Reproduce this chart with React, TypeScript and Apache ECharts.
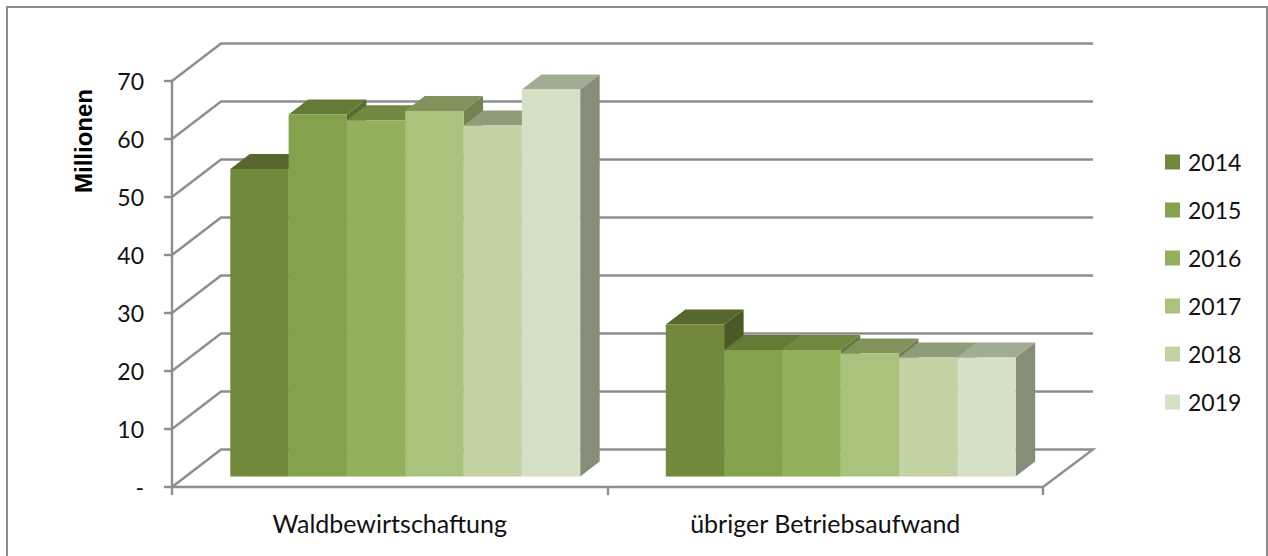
import React, { useEffect, useRef } from "react";
import * as echarts from "echarts";

const categories = ["Waldbewirtschaftung", "übriger Betriebsaufwand"];
const years = ["2014", "2015", "2016", "2017", "2018", "2019"];
const v2014 = [53.0, 26.2];
const v2015 = [62.4, 21.8];
const v2016 = [61.4, 21.8];
const v2017 = [63.0, 21.2];
const v2018 = [60.5, 20.5];
const v2019 = [66.7, 20.5];
const seriesValues = [v2014, v2015, v2016, v2017, v2018, v2019];
const yTicks = [0, 10, 20, 30, 40, 50, 60, 70];

const frontColors = ["#71893D", "#84A14C", "#93B15A", "#A9C37D", "#C3D2A3", "#D5E1C6"];
const topColors = ["#57672D", "#647B38", "#6F8A40", "#80935C", "#8F9C7A", "#A2AB93"];
const sideColors = ["#4A5A25", "#566B2F", "#5F7636", "#6F8250", "#7B876A", "#868E7A"];

const GRID = { left: 172, top: 81, width: 871, height: 406 };
const WALL_DX = 49;
const WALL_DY = 37.5;
const BAR_RATIO = 0.1339;
const PLANE_DX = 15.5;
const PLANE_DY = 10.6;
const BAR_DX = 19.5;
const BAR_DY = 15;
const LINE = "#8E8E8E";
const LINE_W = 2.4;

export default function App() {
  const ref = useRef<HTMLDivElement>(null);
  useEffect(() => {
    document.body.style.margin = "0";
    document.body.style.overflow = "hidden";
    const chart = echarts.init(ref.current!, undefined, { renderer: "svg" });

    const wallSeries: any = {
      type: "custom",
      silent: true,
      z: 1,
      data: yTicks.map((t) => [0, t]),
      encode: { x: 0, y: 1 },
      renderItem: (params: any, api: any) => {
        const y = api.coord([0, api.value(1)])[1];
        const gx = params.coordSys.x;
        const gw = params.coordSys.width;
        const isFloor = api.value(1) === 0;
        const pts = [
          [gx, y],
          [gx + WALL_DX, y - WALL_DY],
          [gx + gw + WALL_DX + 1, y - WALL_DY],
        ];
        if (isFloor) pts.push([gx + gw, y]);
        return {
          type: "polyline",
          shape: { points: pts },
          style: { stroke: LINE, lineWidth: LINE_W, fill: "none" },
        };
      },
    };

    const barSeries = years.map((name, si) => ({
      type: "custom",
      name,
      z: 3,
      silent: true,
      itemStyle: { color: frontColors[si] },
      data: seriesValues[si].map((v, i) => [i, v]),
      encode: { x: 0, y: 1 },
      renderItem: (_p: any, api: any) => {
        const top = api.coord([api.value(0), api.value(1)]);
        const base = api.coord([api.value(0), 0]);
        const w = api.size([1, 0])[0] * BAR_RATIO;
        const x0 = top[0] + PLANE_DX + (si - 3) * w;
        const x1 = x0 + w;
        const yt = top[1] - PLANE_DY;
        const yb = base[1] - PLANE_DY;
        return {
          type: "group",
          children: [
            {
              type: "polygon",
              shape: { points: [[x1, yt], [x1 + BAR_DX, yt - BAR_DY], [x1 + BAR_DX, yb - BAR_DY], [x1, yb]] },
              style: { fill: sideColors[si] },
            },
            {
              type: "polygon",
              shape: { points: [[x0, yt], [x0 + BAR_DX, yt - BAR_DY], [x1 + BAR_DX, yt - BAR_DY], [x1, yt]] },
              style: { fill: topColors[si] },
            },
            {
              type: "rect",
              shape: { x: x0, y: yt, width: w, height: yb - yt },
              style: { fill: frontColors[si] },
            },
          ],
        };
      },
    }));

    chart.setOption({
      animation: false,
      backgroundColor: "#fff",
      grid: GRID,
      legend: {
        orient: "vertical",
        left: 1165,
        top: 148,
        padding: 0,
        icon: "rect",
        itemWidth: 15,
        itemHeight: 15,
        itemGap: 20,
        data: years,
        selectedMode: false,
        textStyle: { fontFamily: "Lato", fontSize: 23, color: "#111", lineHeight: 28, padding: [0, 0, 0, 3] },
      },
      xAxis: {
        type: "category",
        data: categories,
        axisLine: { lineStyle: { color: LINE, width: LINE_W } },
        axisTick: { show: true, length: 8, lineStyle: { color: LINE, width: LINE_W } },
        axisLabel: { fontFamily: "Lato", fontSize: 25, color: "#111", margin: 23 },
      },
      yAxis: {
        type: "value",
        min: 0,
        max: 70,
        interval: 10,
        splitLine: { show: false },
        axisLine: { show: true, lineStyle: { color: LINE, width: LINE_W } },
        axisTick: { show: true, length: 8, lineStyle: { color: LINE, width: LINE_W } },
        axisLabel: {
          fontFamily: "Lato",
          fontSize: 23,
          color: "#111",
          margin: 28,
          formatter: (v: number) => (v === 0 ? "-" : String(v)),
        },
      },
      graphic: [
        {
          type: "polyline",
          z: -1,
          shape: { points: [[7, 556], [7, 7], [1267, 7], [1267, 556]] },
          style: { fill: "none", stroke: "#8C8C8C", lineWidth: 2 },
        },
        {
          type: "text",
          x: 83,
          y: 141,
          rotation: Math.PI / 2,
          style: {
            text: "Millionen",
            fontFamily: "Liberation Sans",
            fontWeight: "bold",
            fontSize: 24,
            fill: "#000",
            align: "center",
            verticalAlign: "middle",
          },
        },
      ],
      series: [wallSeries, ...barSeries],
    });
    return () => chart.dispose();
  }, []);
  return <div ref={ref} style={{ width: 1268, height: 556 }} />;
}
